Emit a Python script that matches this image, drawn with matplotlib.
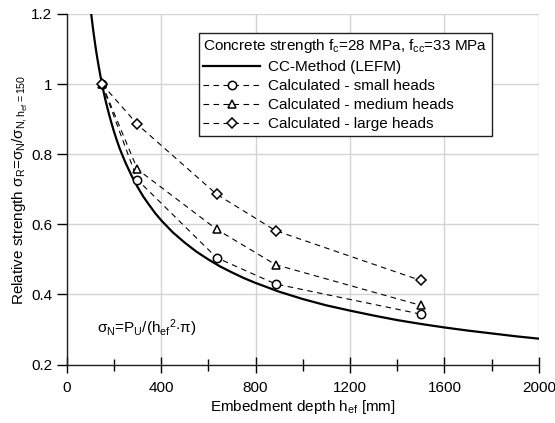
import numpy as np
import matplotlib
matplotlib.use('Agg')
import matplotlib.pyplot as plt

plt.rcParams['font.family'] = ['Liberation Sans', 'DejaVu Sans']
plt.rcParams['mathtext.fontset'] = 'custom'
plt.rcParams['mathtext.rm'] = 'Liberation Sans'
plt.rcParams['mathtext.it'] = 'Liberation Sans'
plt.rcParams['mathtext.bf'] = 'Liberation Sans:bold'

#CC-Method curve
cc_depth = [104, 110, 115, 120, 125, 130, 135, 140, 145, 150, 157, 165, 172, 180, 190,
            200, 212, 225, 237, 250, 275, 300, 325, 350, 375, 400, 450, 500, 550, 600,
            650, 700, 750, 800, 900, 1000, 1100, 1200, 1300, 1400, 1500, 1600, 1700,
            1800, 1900, 2000]
cc_strength = [1.201, 1.168, 1.142, 1.118, 1.095, 1.074, 1.054, 1.035, 1.017, 1.000,
               0.977, 0.953, 0.934, 0.913, 0.889, 0.866, 0.841, 0.816, 0.796, 0.775,
               0.739, 0.707, 0.679, 0.655, 0.632, 0.612, 0.577, 0.548, 0.522, 0.500,
               0.480, 0.463, 0.447, 0.433, 0.408, 0.387, 0.369, 0.354, 0.340, 0.327,
               0.316, 0.306, 0.297, 0.289, 0.281, 0.274]

#Calculated values
calc_depth = [150, 300, 635, 885, 1500]
small_heads = [1.0, 0.727, 0.505, 0.43, 0.344]
medium_heads = [1.0, 0.757, 0.586, 0.485, 0.369]
large_heads = [1.0, 0.885, 0.686, 0.582, 0.44]

x_ticks = [0, 400, 800, 1200, 1600, 2000]
y_ticks = [0.2, 0.4, 0.6, 0.8, 1.0, 1.2]
y_tick_labels = ['0.2', '0.4', '0.6', '0.8', '1', '1.2']

fs = 11

fig = plt.figure(figsize=(5.55, 4.23), dpi=100)
ax = fig.add_axes([0.120, 0.138, 0.851, 0.829])

ax.plot(cc_depth, cc_strength, color='black', linewidth=1.6, label='CC-Method (LEFM)',
        zorder=3, solid_joinstyle='round')

mk = dict(color='black', linestyle=(0, (5, 4)), linewidth=0.8, markersize=6,
          markerfacecolor='white', markeredgecolor='black', markeredgewidth=1.1, zorder=4)
ax.plot(calc_depth, small_heads, marker='o', label='Calculated - small heads', **mk)
ax.plot(calc_depth, medium_heads, marker='^', label='Calculated - medium heads', **mk)
ax.plot(calc_depth, large_heads, marker='D', label='Calculated - large heads',
        **{**mk, 'markersize': 5})

ax.set_xlim(0, 2000)
ax.set_ylim(0.2, 1.2)
ax.set_xticks(x_ticks)
ax.set_xticks(np.arange(200, 2000, 400), minor=True)
ax.set_yticks(y_ticks)
ax.set_yticklabels(y_tick_labels)
ax.grid(True, which='major', color='#d4d4d4', linewidth=1.0)
ax.set_axisbelow(True)

for s in ['top', 'right']:
    ax.spines[s].set_visible(False)
for s in ['left', 'bottom']:
    ax.spines[s].set_color('#202020')
    ax.spines[s].set_linewidth(1.0)

ax.tick_params(axis='x', which='major', direction='inout', length=12, width=1, labelsize=fs, pad=6)
ax.tick_params(axis='x', which='minor', direction='inout', length=8, width=1)
ax.tick_params(axis='y', which='major', direction='out', length=7, width=1, labelsize=fs)

ax.set_xlabel('Embedment depth h$_\\mathregular{ef}$ [mm]', fontsize=fs, labelpad=2)
ax.set_ylabel('Relative strength $\\sigma_\\mathregular{R}$=$\\sigma_\\mathregular{N}$/$\\sigma_\\mathregular{N,h_{ef}=150}$',
              fontsize=fs, labelpad=1)

ax.text(128, 0.305, '$\\sigma_\\mathregular{N}$=P$_\\mathregular{U}$/(h$_\\mathregular{ef}$$^\\mathregular{2}$$\\cdot\\pi$)',
        fontsize=fs, va='center', ha='left')

leg = ax.legend(loc='upper left', bbox_to_anchor=(0.280, 0.946), borderaxespad=0,
                title='Concrete strength f$_\\mathregular{c}$=28 MPa, f$_\\mathregular{cc}$=33 MPa',
                title_fontsize=fs, fontsize=fs, handlelength=3.7, numpoints=1,
                fancybox=False, framealpha=1, edgecolor='#202020',
                labelspacing=0.32, borderpad=0.3, handletextpad=0.5, alignment='left')
leg.get_frame().set_linewidth(1.0)
leg.set_zorder(6)

fig.savefig('out.png', dpi=100)
